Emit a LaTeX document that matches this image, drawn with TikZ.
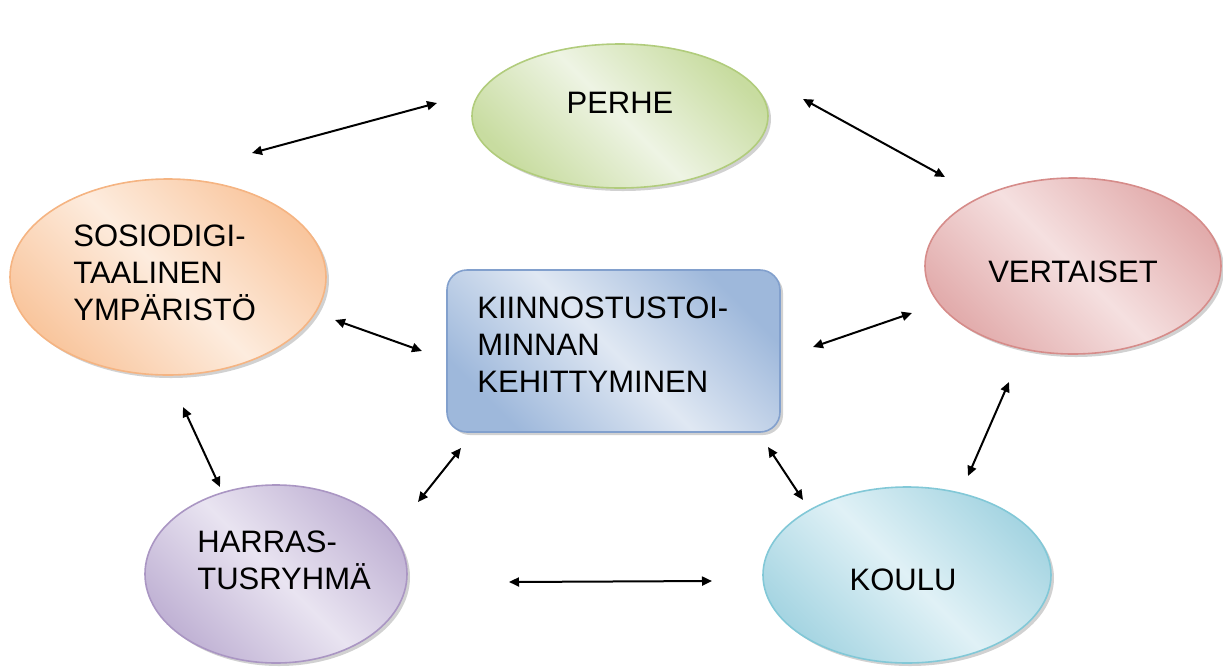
\documentclass[tikz,border=0pt]{standalone}
\usepackage{fontspec}
\setmainfont{Liberation Sans}
\usetikzlibrary{shapes.geometric,shadows,arrows.meta}

\definecolor{grnedge}{RGB}{177,204,124}
\definecolor{grndark}{RGB}{200,220,160}
\definecolor{grnlight}{RGB}{238,244,228}
\definecolor{rededge}{RGB}{214,140,138}
\definecolor{reddark}{RGB}{226,172,172}
\definecolor{redlight}{RGB}{245,224,224}
\definecolor{orgedge}{RGB}{245,180,130}
\definecolor{orgdark}{RGB}{249,198,158}
\definecolor{orglight}{RGB}{253,236,222}
\definecolor{purpedge}{RGB}{170,150,195}
\definecolor{purpdark}{RGB}{192,178,212}
\definecolor{purplight}{RGB}{233,228,241}
\definecolor{aquaedge}{RGB}{130,200,215}
\definecolor{aquadark}{RGB}{166,213,226}
\definecolor{aqualight}{RGB}{224,241,246}
\definecolor{bluedge}{RGB}{130,160,205}
\definecolor{bludark}{RGB}{158,184,219}
\definecolor{blulight}{RGB}{224,232,243}

\tikzset{
  blob/.style n args={3}{ellipse, inner sep=0pt, draw=#1, line width=0.8pt,
    left color=#2, right color=#2, middle color=#3, shading angle=135,
    drop shadow={shadow xshift=1.5pt, shadow yshift=-1.5pt, fill=black!40, opacity=0.45}},
  hub/.style={rectangle, rounded corners=10pt, inner sep=0pt, draw=bluedge, line width=0.8pt,
    left color=bludark, right color=bludark, middle color=blulight, shading angle=135,
    minimum width=166.5pt, minimum height=81pt,
    drop shadow={shadow xshift=1.5pt, shadow yshift=-1.5pt, fill=black!40, opacity=0.45}},
  word/.style={inner sep=0pt, align=left, font=\fontsize{15.5}{18.5}\selectfont},
  link/.style={<->, >={Triangle[length=5pt,width=4.5pt]}, line width=1pt}
}

\begin{document}
\begin{tikzpicture}[x=0.5pt, y=-0.5pt]
  \useasboundingbox (0,0) rectangle (1223,666);

  % circles round the hub
  \node (perhe) [blob={grnedge}{grndark}{grnlight}, minimum width=148pt, minimum height=72pt] at (620,116) {};
  \node (vert) [blob={rededge}{reddark}{redlight}, minimum width=148pt, minimum height=88pt] at (1073,266) {};
  \node (sos) [blob={orgedge}{orgdark}{orglight}, minimum width=158pt, minimum height=98pt] at (168,277) {};
  \node (harr) [blob={purpedge}{purpdark}{purplight}, minimum width=131pt, minimum height=89pt] at (276,574) {};
  \node (koulu) [blob={aquaedge}{aquadark}{aqualight}, minimum width=144pt, minimum height=88pt] at (907,575) {};
  \node (kehit) [hub] at (613.5,351) {};

  % texts
  \node (perhe-t) [word] at (620,103) {PERHE};
  \node (vert-t) [word] at (1073,272) {VERTAISET};
  \node (koulu-t) [word] at (903,580) {KOULU};
  \node (sos-t) [word, anchor=west] at (73,273) {SOSIODIGI-\\TAALINEN\\YMPÄRISTÖ};
  \node (harr-t) [word, anchor=west] at (197,560) {HARRAS-\\TUSRYHMÄ};
  \node (kehit-t) [word, anchor=west] at (477,345) {KIINNOSTUSTOI-\\MINNAN\\KEHITTYMINEN};

  % arrow ends
  \coordinate (sp1) at (252,153);
  \coordinate (sp2) at (437,103);
  \coordinate (pv1) at (803,99);
  \coordinate (pv2) at (945,177);
  \coordinate (sk1) at (335,320);
  \coordinate (sk2) at (422,351);
  \coordinate (kv1) at (813,347);
  \coordinate (kv2) at (912,313);
  \coordinate (sh1) at (183,407);
  \coordinate (sh2) at (220,487);
  \coordinate (kh1) at (418,502);
  \coordinate (kh2) at (461,448);
  \coordinate (kk1) at (768,447);
  \coordinate (kk2) at (803,500);
  \coordinate (vk1) at (1009,382);
  \coordinate (vk2) at (968,476);
  \coordinate (hk1) at (509,582);
  \coordinate (hk2) at (712,581);

  \begin{scope}[link]
    \draw (sp1) to (sp2);
    \draw (pv1) to (pv2);
    \draw (sk1) to (sk2);
    \draw (kv1) to (kv2);
    \draw (sh1) to (sh2);
    \draw (kh1) to (kh2);
    \draw (kk1) to (kk2);
    \draw (vk1) to (vk2);
    \draw (hk1) to (hk2);
  \end{scope}
\end{tikzpicture}
\end{document}
